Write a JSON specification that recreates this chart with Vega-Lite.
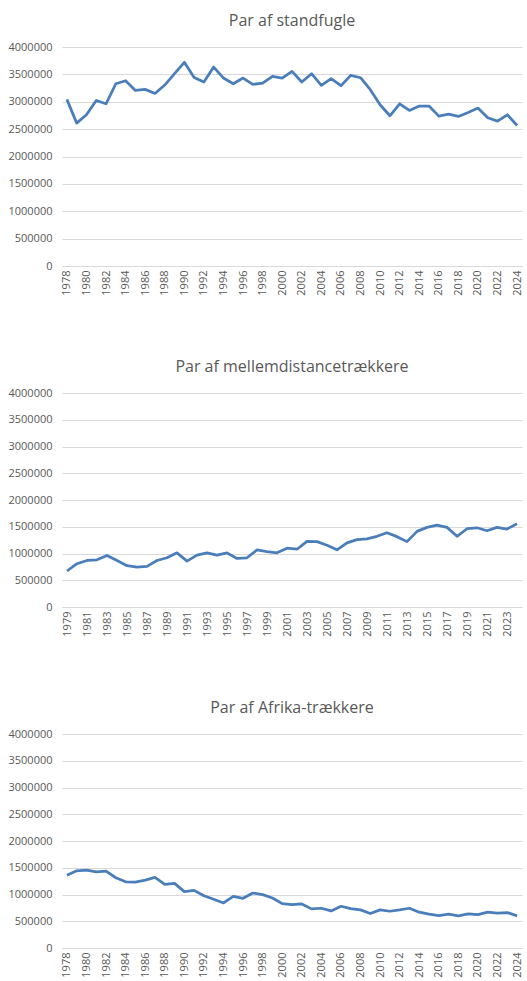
{
  "$schema": "https://vega.github.io/schema/vega-lite/v6.json",
  "background": "white",
  "padding": {"left": 7, "top": 13, "right": 4, "bottom": 0},
  "spacing": 63,
  "config": {
    "view": {"stroke": null},
    "font": "Open Sans",
    "title": {"fontSize": 16, "fontWeight": "normal", "color": "#595959", "font": "Open Sans", "anchor": "middle", "offset": 12},
    "axis": {"labelFont": "Open Sans", "labelFontSize": 11, "labelColor": "#595959", "title": null, "ticks": false, "gridColor": "#d9d9d9", "gridWidth": 1, "domainColor": "#d9d9d9"}
  },
  "datasets": {
    "standfugle": [
      {"year": 1978, "pairs": 3043000}, {"year": 1979, "pairs": 2610000}, {"year": 1980, "pairs": 2762000},
      {"year": 1981, "pairs": 3024000}, {"year": 1982, "pairs": 2963000}, {"year": 1983, "pairs": 3329000},
      {"year": 1984, "pairs": 3384000}, {"year": 1985, "pairs": 3207000}, {"year": 1986, "pairs": 3226000},
      {"year": 1987, "pairs": 3152000}, {"year": 1988, "pairs": 3305000}, {"year": 1989, "pairs": 3512000},
      {"year": 1990, "pairs": 3720000}, {"year": 1991, "pairs": 3445000}, {"year": 1992, "pairs": 3360000},
      {"year": 1993, "pairs": 3634000}, {"year": 1994, "pairs": 3433000}, {"year": 1995, "pairs": 3329000},
      {"year": 1996, "pairs": 3433000}, {"year": 1997, "pairs": 3317000}, {"year": 1998, "pairs": 3341000},
      {"year": 1999, "pairs": 3463000}, {"year": 2000, "pairs": 3433000}, {"year": 2001, "pairs": 3555000},
      {"year": 2002, "pairs": 3360000}, {"year": 2003, "pairs": 3512000}, {"year": 2004, "pairs": 3299000},
      {"year": 2005, "pairs": 3421000}, {"year": 2006, "pairs": 3293000}, {"year": 2007, "pairs": 3482000},
      {"year": 2008, "pairs": 3439000}, {"year": 2009, "pairs": 3220000}, {"year": 2010, "pairs": 2945000},
      {"year": 2011, "pairs": 2744000}, {"year": 2012, "pairs": 2963000}, {"year": 2013, "pairs": 2841000},
      {"year": 2014, "pairs": 2921000}, {"year": 2015, "pairs": 2921000}, {"year": 2016, "pairs": 2738000},
      {"year": 2017, "pairs": 2774000}, {"year": 2018, "pairs": 2732000}, {"year": 2019, "pairs": 2805000},
      {"year": 2020, "pairs": 2884000}, {"year": 2021, "pairs": 2707000}, {"year": 2022, "pairs": 2646000},
      {"year": 2023, "pairs": 2762000}, {"year": 2024, "pairs": 2567000}
    ],
    "mellem": [
      {"year": 1979, "pairs": 673000}, {"year": 1980, "pairs": 809000}, {"year": 1981, "pairs": 870000},
      {"year": 1982, "pairs": 883000}, {"year": 1983, "pairs": 963000}, {"year": 1984, "pairs": 870000},
      {"year": 1985, "pairs": 772000}, {"year": 1986, "pairs": 747000}, {"year": 1987, "pairs": 759000},
      {"year": 1988, "pairs": 870000}, {"year": 1989, "pairs": 920000}, {"year": 1990, "pairs": 1012000},
      {"year": 1991, "pairs": 858000}, {"year": 1992, "pairs": 969000}, {"year": 1993, "pairs": 1012000},
      {"year": 1994, "pairs": 969000}, {"year": 1995, "pairs": 1012000}, {"year": 1996, "pairs": 907000},
      {"year": 1997, "pairs": 920000}, {"year": 1998, "pairs": 1068000}, {"year": 1999, "pairs": 1037000},
      {"year": 2000, "pairs": 1012000}, {"year": 2001, "pairs": 1099000}, {"year": 2002, "pairs": 1080000},
      {"year": 2003, "pairs": 1228000}, {"year": 2004, "pairs": 1222000}, {"year": 2005, "pairs": 1154000},
      {"year": 2006, "pairs": 1068000}, {"year": 2007, "pairs": 1198000}, {"year": 2008, "pairs": 1259000},
      {"year": 2009, "pairs": 1272000}, {"year": 2010, "pairs": 1321000}, {"year": 2011, "pairs": 1389000},
      {"year": 2012, "pairs": 1315000}, {"year": 2013, "pairs": 1222000}, {"year": 2014, "pairs": 1414000},
      {"year": 2015, "pairs": 1488000}, {"year": 2016, "pairs": 1531000}, {"year": 2017, "pairs": 1488000},
      {"year": 2018, "pairs": 1321000}, {"year": 2019, "pairs": 1463000}, {"year": 2020, "pairs": 1481000},
      {"year": 2021, "pairs": 1426000}, {"year": 2022, "pairs": 1488000}, {"year": 2023, "pairs": 1457000},
      {"year": 2024, "pairs": 1556000}
    ],
    "afrika": [
      {"year": 1978, "pairs": 1362000}, {"year": 1979, "pairs": 1443000}, {"year": 1980, "pairs": 1455000},
      {"year": 1981, "pairs": 1424000}, {"year": 1982, "pairs": 1437000}, {"year": 1983, "pairs": 1313000},
      {"year": 1984, "pairs": 1238000}, {"year": 1985, "pairs": 1232000}, {"year": 1986, "pairs": 1269000},
      {"year": 1987, "pairs": 1319000}, {"year": 1988, "pairs": 1189000}, {"year": 1989, "pairs": 1207000},
      {"year": 1990, "pairs": 1053000}, {"year": 1991, "pairs": 1077000}, {"year": 1992, "pairs": 978000},
      {"year": 1993, "pairs": 910000}, {"year": 1994, "pairs": 842000}, {"year": 1995, "pairs": 966000},
      {"year": 1996, "pairs": 929000}, {"year": 1997, "pairs": 1028000}, {"year": 1998, "pairs": 997000},
      {"year": 1999, "pairs": 935000}, {"year": 2000, "pairs": 830000}, {"year": 2001, "pairs": 811000},
      {"year": 2002, "pairs": 824000}, {"year": 2003, "pairs": 731000}, {"year": 2004, "pairs": 743000},
      {"year": 2005, "pairs": 693000}, {"year": 2006, "pairs": 780000}, {"year": 2007, "pairs": 737000},
      {"year": 2008, "pairs": 712000}, {"year": 2009, "pairs": 644000}, {"year": 2010, "pairs": 712000},
      {"year": 2011, "pairs": 687000}, {"year": 2012, "pairs": 712000}, {"year": 2013, "pairs": 743000},
      {"year": 2014, "pairs": 669000}, {"year": 2015, "pairs": 632000}, {"year": 2016, "pairs": 607000},
      {"year": 2017, "pairs": 632000}, {"year": 2018, "pairs": 601000}, {"year": 2019, "pairs": 638000},
      {"year": 2020, "pairs": 625000}, {"year": 2021, "pairs": 669000}, {"year": 2022, "pairs": 650000},
      {"year": 2023, "pairs": 662000}, {"year": 2024, "pairs": 601000}
    ]
  },
  "vconcat": [
    {
      "title": "Par af standfugle",
      "width": 460,
      "height": 219,
      "data": {"name": "standfugle"},
      "mark": {"type": "line", "color": "#4a7ebb", "strokeWidth": 2.75, "strokeJoin": "round"},
      "encoding": {
        "x": {"field": "year", "type": "ordinal", "scale": {"type": "point", "padding": 0.5},
          "axis": {"labelAngle": -90, "grid": false, "labelPadding": 4,
            "values": [1978,1980,1982,1984,1986,1988,1990,1992,1994,1996,1998,2000,2002,2004,2006,2008,2010,2012,2014,2016,2018,2020,2022,2024]}},
        "y": {"field": "pairs", "type": "quantitative", "scale": {"domain": [0, 4000000], "nice": false},
          "axis": {"values": [0,500000,1000000,1500000,2000000,2500000,3000000,3500000,4000000], "format": "d", "domain": false, "labelPadding": 10}}
      }
    },
    {
      "title": "Par af mellemdistancetrækkere",
      "width": 460,
      "height": 214,
      "data": {"name": "mellem"},
      "mark": {"type": "line", "color": "#4a7ebb", "strokeWidth": 2.75, "strokeJoin": "round"},
      "encoding": {
        "x": {"field": "year", "type": "ordinal", "scale": {"type": "point", "padding": 0.5},
          "axis": {"labelAngle": -90, "grid": false, "labelPadding": 4,
            "values": [1979,1981,1983,1985,1987,1989,1991,1993,1995,1997,1999,2001,2003,2005,2007,2009,2011,2013,2015,2017,2019,2021,2023]}},
        "y": {"field": "pairs", "type": "quantitative", "scale": {"domain": [0, 4000000], "nice": false},
          "axis": {"values": [0,500000,1000000,1500000,2000000,2500000,3000000,3500000,4000000], "format": "d", "domain": false, "labelPadding": 10}}
      }
    },
    {
      "title": "Par af Afrika-trækkere",
      "width": 460,
      "height": 214,
      "data": {"name": "afrika"},
      "mark": {"type": "line", "color": "#4a7ebb", "strokeWidth": 2.75, "strokeJoin": "round"},
      "encoding": {
        "x": {"field": "year", "type": "ordinal", "scale": {"type": "point", "padding": 0.5},
          "axis": {"labelAngle": -90, "grid": false, "labelPadding": 4,
            "values": [1978,1980,1982,1984,1986,1988,1990,1992,1994,1996,1998,2000,2002,2004,2006,2008,2010,2012,2014,2016,2018,2020,2022,2024]}},
        "y": {"field": "pairs", "type": "quantitative", "scale": {"domain": [0, 4000000], "nice": false},
          "axis": {"values": [0,500000,1000000,1500000,2000000,2500000,3000000,3500000,4000000], "format": "d", "domain": false, "labelPadding": 10}}
      }
    }
  ]
}
